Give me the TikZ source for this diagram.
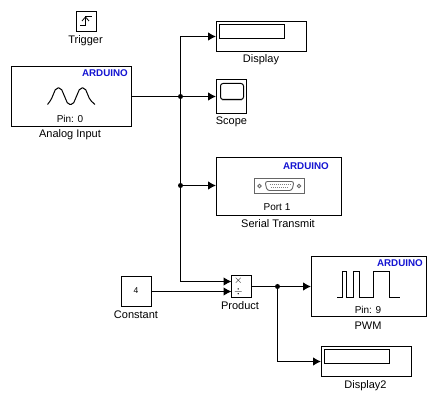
\documentclass[tikz,border=0pt]{standalone}
\usepackage{fontspec}
\setmainfont{Liberation Sans}
\usetikzlibrary{arrows.meta}

\definecolor{arduinoblue}{RGB}{20,20,210}

\tikzset{
    block/.style={draw, line width=1pt, fill=white, rectangle, inner sep=0pt},
    inner/.style={draw, line width=1pt},
    caption/.style={font=\fontsize{11}{12}\selectfont},
    brand/.style={font=\fontsize{9.8}{11}\selectfont\bfseries, text=arduinoblue, anchor=east, inner sep=0pt},
    small/.style={font=\fontsize{10}{11}\selectfont, inner sep=0pt},
    wire/.style={line width=1pt},
    sig/.style={wire, -{Latex[length=8pt,width=8.5pt]}},
    junction/.style={circle, fill=black, inner sep=0pt, minimum size=5pt},
}

\begin{document}
\begin{tikzpicture}[x=1pt, y=-1pt]

    \useasboundingbox (0,0) rectangle (437,403);

    % blocks
    \node[block, minimum width=20pt, minimum height=20pt] (trigger) at (86.5,21.5) {};
    \node[block, minimum width=120pt, minimum height=60pt] (analog) at (71.5,96.5) {};
    \node[block, minimum width=90pt, minimum height=30pt] (display) at (261.5,36.5) {};
    \node[block, minimum width=30pt, minimum height=34pt] (scope) at (231.5,96.5) {};
    \node[block, minimum width=125pt, minimum height=58pt] (serial) at (279,186.5) {};
    \node[block, minimum width=30pt, minimum height=30pt] (constant) at (136.5,291.5) {};
    \node[block, minimum width=20pt, minimum height=22pt] (product) at (241.5,286.5) {};
    \node[block, minimum width=115pt, minimum height=60pt] (pwm) at (369,286.5) {};
    \node[block, minimum width=90pt, minimum height=30pt] (display2) at (366.5,361.5) {};

    % captions
    \node[caption] (triggerlabel) at (85.5,40.5) {Trigger};
    \node[caption] (analoglabel) at (70,135) {Analog Input};
    \node[caption] (displaylabel) at (261,60) {Display};
    \node[caption] (scopelabel) at (231.5,122) {Scope};
    \node[caption] (seriallabel) at (278,224) {Serial Transmit};
    \node[caption] (constantlabel) at (136,315) {Constant};
    \node[caption] (productlabel) at (240,306) {Product};
    \node[caption] (pwmlabel) at (368,326) {PWM};
    \node[caption] (display2label) at (365.5,385.5) {Display2};

    % block texts
    \node[brand] (analogbrand) at (128,73) {ARDUINO};
    \node[brand] (serialbrand) at (329,166.5) {ARDUINO};
    \node[brand] (pwmbrand) at (423,263.5) {ARDUINO};
    \node[small] (analogpin) at (70,119) {Pin: 0};
    \node[small] (serialport) at (277,207.5) {Port 1};
    \node[small] (pwmpin) at (368,309.5) {Pin: 9};
    \node[small, font=\fontsize{8.5}{9}\selectfont] (constantvalue) at (136,290.5) {4};
    \node[small, font=\fontsize{11}{11}\selectfont] (times) at (238.5,280.5) {$\times$};
    \node[small, font=\fontsize{11}{11}\selectfont] (divide) at (238.5,292) {$\div$};

    % icons
    \draw[line width=1pt] (80,25.5) -- (85.5,25.5) -- (85.5,16.5) -- (92,16.5);
    \draw[line width=0.8pt] (82,21) -- (85.5,17) -- (89,21);
    \draw[line width=1pt, rounded corners=2pt] (47.5,104.5) -- (51,100) -- (56,88) -- (61,88) -- (68,104.5) -- (73,104.5) -- (80,88) -- (85,88) -- (90,100) -- (95,104.5);

    \draw[inner] (219.5,24.5) rectangle (284.5,38.5);
    \draw[inner] (324.5,349.5) rectangle (389.5,363.5);

    \draw[line width=1pt, rounded corners=2.5pt, fill=white] (220.5,83.5) rectangle (243.5,99.5);
    \draw[gray!40, line width=0.8pt] (222,100.5) -- (242,100.5);

    \draw[gray!80!black, line width=0.9pt] (254.5,178.5) rectangle (304.5,193.5);
    \draw[gray!80!black, line width=0.9pt, rounded corners=2.5pt] (265,181.5) -- (294,181.5) -- (292,190.5) -- (267,190.5) -- cycle;
    \draw[gray!80!black, line width=0.8pt] (259.5,186) circle (1.7pt);
    \draw[gray!80!black, line width=0.8pt] (299,186) circle (1.7pt);
    \draw[gray, line width=1.5pt, dash pattern=on 1pt off 1pt] (269.5,184.5) -- (290,184.5);
    \draw[gray, line width=1.2pt, dash pattern=on 1pt off 1pt] (271,187.5) -- (288,187.5);

    \draw[line width=1pt] (337,297.5) -- (342.5,297.5) -- (342.5,271.5) -- (346.5,271.5) -- (346.5,297.5) -- (353.5,297.5) -- (353.5,271.5) -- (359.5,271.5) -- (359.5,297.5) -- (373.5,297.5) -- (373.5,271.5) -- (389.5,271.5) -- (389.5,297.5) -- (400,297.5);

    % junctions
    \node[junction] (split) at (180.5,96.5) {};
    \node[junction] (tap) at (180.5,185.5) {};
    \node[junction] (branch) at (277.5,286.5) {};
    \coordinate (productin) at (231.5,281.5);
    \coordinate (productin2) at (231.5,291.5);

    % connectors
    \draw[wire] (analog.east) -- (split);
    \draw[sig] (split) -- (scope.west);
    \draw[sig] (split) |- (display.west);
    \draw[wire] (split) -- (tap);
    \draw[sig] (tap) -- (tap -| serial.west);
    \draw[sig] (tap) |- (productin);
    \draw[sig] (constant.east) -- (productin2);
    \draw[wire] (product.east |- branch) -- (branch);
    \draw[sig] (branch) -- (pwm.west);
    \draw[sig] (branch) |- (display2.west);

\end{tikzpicture}
\end{document}
